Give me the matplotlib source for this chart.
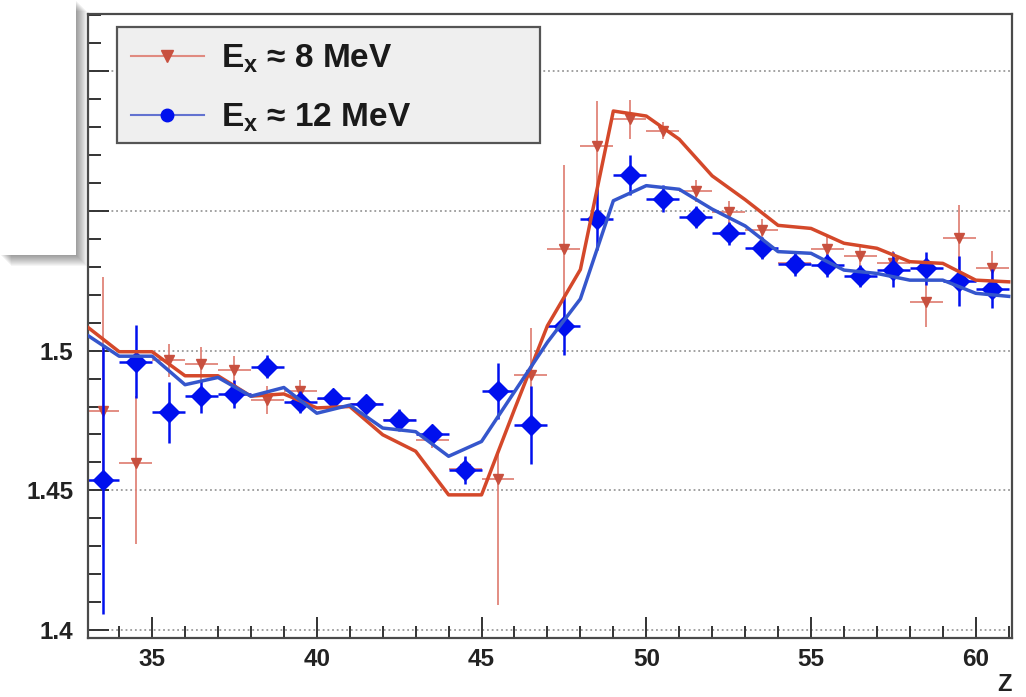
import matplotlib
matplotlib.use("Agg")
import matplotlib.pyplot as plt
from matplotlib.lines import Line2D
from matplotlib.patches import Rectangle
from matplotlib.ticker import FixedLocator, MultipleLocator, FixedFormatter

plt.rcParams['font.family'] = ['Liberation Sans', 'DejaVu Sans']
plt.rcParams['font.weight'] = 'bold'
plt.rcParams['mathtext.fontset'] = 'custom'
plt.rcParams['mathtext.rm'] = 'Liberation Sans:bold'
plt.rcParams['mathtext.bf'] = 'Liberation Sans:bold'
plt.rcParams['mathtext.it'] = 'Liberation Sans:bold'

# ---------------- data ----------------
z_bins = [33.5, 34.5, 35.5, 36.5, 37.5, 38.5, 39.5, 40.5, 41.5, 42.5, 43.5, 44.5, 45.5, 46.5,
          47.5, 48.5, 49.5, 50.5, 51.5, 52.5, 53.5, 54.5, 55.5, 56.5, 57.5, 58.5, 59.5, 60.5]

blue_vals = [1.4537, 1.4961, 1.4779, 1.4836, 1.4845, 1.4943, 1.4816, 1.4830, 1.4810, 1.4751,
             1.4703, 1.4572, 1.4857, 1.4733, 1.5088, 1.5470, 1.5628, 1.5544, 1.5479, 1.5419,
             1.5368, 1.5308, 1.5305, 1.5266, 1.5289, 1.5294, 1.5249, 1.5221]
blue_errs = [0.048, 0.013, 0.011, 0.006, 0.005, 0.004, 0.004, 0.003, 0.003, 0.004,
             0.003, 0.005, 0.010, 0.014, 0.0105, 0.011, 0.007, 0.005, 0.004, 0.004,
             0.004, 0.004, 0.004, 0.004, 0.0063, 0.006, 0.0088, 0.007]

red_vals = [1.4783, 1.4598, 1.4965, 1.4952, 1.4932, 1.4822, 1.4854, 1.4828, 1.4808, 1.4752,
            1.4680, 1.4575, 1.4541, 1.4911, 1.5363, 1.5732, 1.5827, 1.5786, 1.5571, 1.5494,
            1.5431, 1.5315, 1.5365, 1.5340, 1.5315, 1.5175, 1.5401, 1.5296]
red_err_lo = [0.048, 0.029, 0.006, 0.006, 0.005, 0.005, 0.004, 0.003, 0.003, 0.003,
              0.003, 0.004, 0.045, 0.017, 0.030, 0.016, 0.007, 0.003, 0.004, 0.004,
              0.004, 0.003, 0.004, 0.004, 0.004, 0.009, 0.012, 0.006]
red_err_hi = [0.048, 0.024, 0.006, 0.006, 0.005, 0.005, 0.004, 0.003, 0.003, 0.003,
              0.003, 0.004, 0.010, 0.017, 0.030, 0.016, 0.007, 0.003, 0.004, 0.004,
              0.004, 0.003, 0.004, 0.004, 0.004, 0.009, 0.012, 0.006]

curve_z = [33, 34, 35, 36, 37, 38, 39, 40, 41, 42, 43, 44, 45, 46, 47,
           48, 49, 50, 51, 52, 53, 54, 55, 56, 57, 58, 59, 60, 61]
red_curve = [1.5088, 1.4996, 1.4996, 1.4910, 1.4910, 1.4837, 1.4845, 1.4795, 1.4800, 1.4699,
             1.4640, 1.4484, 1.4484, 1.4790, 1.5089, 1.5290, 1.5857, 1.5839, 1.5756, 1.5625,
             1.5540, 1.5448, 1.5437, 1.5384, 1.5366, 1.5318, 1.5312, 1.5252, 1.5246]
blue_curve = [1.5058, 1.4980, 1.4980, 1.4878, 1.4904, 1.4837, 1.4868, 1.4776, 1.4805, 1.4723,
              1.4710, 1.4622, 1.4675, 1.4853, 1.5030, 1.5185, 1.5536, 1.5590, 1.5577, 1.5506,
              1.5446, 1.5354, 1.5348, 1.5288, 1.5276, 1.5252, 1.5252, 1.5205, 1.5194]

y_ticks = [1.4, 1.45, 1.5, 1.55, 1.6]
y_tick_labels = ['1.4', '1.45', '1.5', '1.55', '1.6']
x_ticks = [35, 40, 45, 50, 55, 60]
x_tick_labels = ['35', '40', '45', '50', '55', '60']
legend_labels = [r'E$_\mathbf{x}$ ≈ 8 MeV', r'E$_\mathbf{x}$ ≈ 12 MeV']

# ---------------- styles ----------------
RED_MK = '#c8503f'
RED_ERR = '#e0857a'
RED_LINE = '#d4482a'
BLUE_MK = '#0010ee'
BLUE_LINE = '#3556cc'

W, H = 1026, 697
fig = plt.figure(figsize=(W / 100, H / 100), dpi=100)
left, right, top, bottom = 87.5, 1012, 14, 638
ax = fig.add_axes([left / W, 1 - bottom / H, (right - left) / W, (bottom - top) / H])

ax.set_xlim(33.04, 61.1)
ax.set_ylim(1.3972, 1.6204)

# grid (horizontal dotted)
for yv in y_ticks:
    ax.axhline(yv, color='#9a9a9a', lw=1.3, ls=(0, (1, 1.6)), zorder=0.5)

# data: red (underneath)
ax.errorbar(z_bins, red_vals, yerr=[red_err_lo, red_err_hi], xerr=0.5, fmt='none',
            ecolor=RED_ERR, elinewidth=1.3, capsize=0, zorder=2)
ax.plot(z_bins, red_vals, 'v', color=RED_MK, ms=7.5, mec=RED_MK, zorder=2.1, ls='none')
# data: blue
ax.errorbar(z_bins, blue_vals, yerr=blue_errs, xerr=0.5, fmt='D', color=BLUE_MK,
            ms=10.5, mec=BLUE_MK, elinewidth=1.8, capsize=0, zorder=2.5)

# model curves
ax.plot(curve_z, red_curve, color=RED_LINE, lw=2.5, zorder=3, solid_joinstyle='round')
ax.plot(curve_z, blue_curve, color=BLUE_LINE, lw=2.5, zorder=3.1, solid_joinstyle='round')

# axes styling
for s in ax.spines.values():
    s.set_color('#4a4a4a')
    s.set_linewidth(1.6)
ax.yaxis.set_major_locator(FixedLocator(y_ticks))
ax.yaxis.set_major_formatter(FixedFormatter(y_tick_labels))
ax.yaxis.set_minor_locator(MultipleLocator(0.01))
ax.xaxis.set_major_locator(FixedLocator(x_ticks))
ax.xaxis.set_major_formatter(FixedFormatter(x_tick_labels))
ax.xaxis.set_minor_locator(MultipleLocator(1))
ax.tick_params(axis='both', which='both', direction='in', color='#333333', width=1.4,
               top=False, right=False)
ax.tick_params(axis='both', which='major', length=15, labelsize=17.5)
ax.tick_params(axis='both', which='minor', length=9)
ax.tick_params(axis='y', which='major', pad=10)
ax.tick_params(axis='x', which='major', pad=7)
for lab in ax.get_xticklabels() + ax.get_yticklabels():
    lab.set_fontweight('bold')
    lab.set_color('#222222')

ax.set_xlabel('Z', loc='right', fontsize=17, fontweight='bold', labelpad=1.5, color='#222222')

# legend box
lx0 = (117 - left) / (right - left)
ly0 = 1 - (143 - top) / (bottom - top)
lw_ = (540 - 117) / (right - left)
lh_ = (143 - 27) / (bottom - top)
ax.add_patch(Rectangle((lx0, ly0), lw_, lh_, transform=ax.transAxes, facecolor='#efefef',
                       edgecolor='#555555', lw=1.6, zorder=4))
handles = [Line2D([], [], color='#e08a80', lw=1.5, marker='v', ms=8, mfc=RED_MK, mec=RED_MK),
           Line2D([], [], color='#6272d0', lw=1.5, marker='o', ms=9, mfc=BLUE_MK, mec=BLUE_MK)]
leg = ax.legend(handles, legend_labels, loc='upper left',
                bbox_to_anchor=((124 - left) / (right - left), 1 - (36 - top) / (bottom - top)),
                frameon=False, fontsize=24, handlelength=2.2, handletextpad=0.5,
                labelspacing=0.8, borderpad=0.2, borderaxespad=0)
leg.set_zorder(5)
for t in leg.get_texts():
    t.set_fontweight('bold')
    t.set_color('#1a1a1a')

# overlay box with drop shadow at top-left
for k in range(1, 12):
    fig.add_artist(Rectangle((k / W, 1 - (255 + k) / H), 76 / W, 255 / H,
                             transform=fig.transFigure, facecolor='black', alpha=0.04,
                             edgecolor='none', zorder=20))
fig.add_artist(Rectangle((0, 1 - 255 / H), 76 / W, 255 / H + 0.01, transform=fig.transFigure,
                         facecolor='white', edgecolor='none', zorder=21))

fig.savefig('out.png', dpi=100)
